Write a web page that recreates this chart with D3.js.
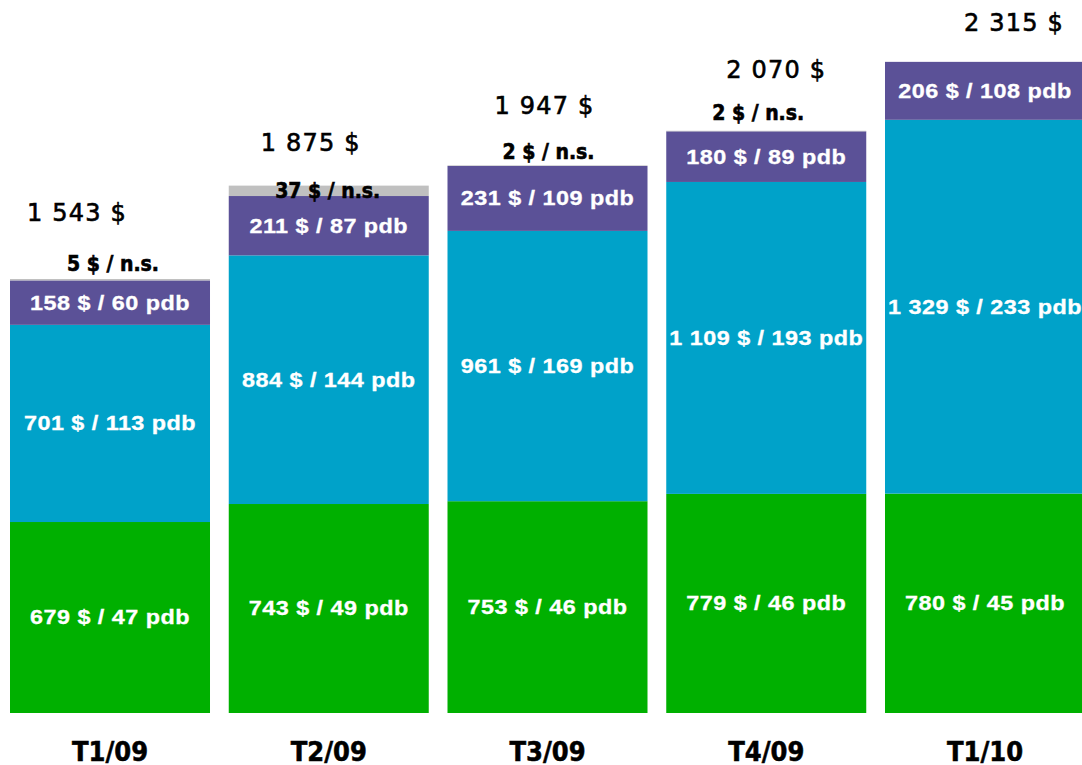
<!DOCTYPE html>
<html><head><meta charset="utf-8">
<script src="https://cdn.jsdelivr.net/npm/d3@7"></script>
<style>
html,body{margin:0;padding:0;background:#fff;}
svg{display:block;}
</style></head>
<body>
<svg id="chart" width="1082" height="765"></svg>
<script>
// ---- data ----
const categories = ["T1/09","T2/09","T3/09","T4/09","T1/10"];
const greenValues  = [679, 743, 753, 779, 780];
const greenPdb     = [47, 49, 46, 46, 45];
const blueValues   = [701, 884, 961, 1109, 1329];
const bluePdb      = [113, 144, 169, 193, 233];
const purpleValues = [158, 211, 231, 180, 206];
const purplePdb    = [60, 87, 109, 89, 108];
const grayValues   = [5, 37, 2, 2, 0];
const totals       = [1543, 1875, 1947, 2070, 2315];

// ---- layout (label nudges, not data) ----
const totalDx = [-33, -18, -3, 10, 29];
const totalDy = [-66, -43, -59, -61, -39];
const nsDx = [3, -1, 1, -8, 0];
const nsDy = [-15, 5, -13, -18, 0];
const stretch = 1.17;

const colors = {green:"#00b000", blue:"#00a2c9", purple:"#5b5197", gray:"#c0c0c0"};

const svg = d3.select("#chart");
const loc = d3.formatLocale({decimal:",", thousands:" ", grouping:[3], currency:["","$"]});
const fmt = loc.format(",d");

const x = d3.scaleBand().domain(categories).range([10, 1085]).paddingInner(0.0857).paddingOuter(0);
const y = d3.scaleLinear().domain([0, 2315]).range([713, 713 - 2315 * (434 / 1543)]);

const series = [
  {key:"green", vals:greenValues, pdb:greenPdb},
  {key:"blue", vals:blueValues, pdb:bluePdb},
  {key:"purple", vals:purpleValues, pdb:purplePdb},
  {key:"gray", vals:grayValues, pdb:null}
];

const rows = categories.map((c,i)=>{
  let acc = 0;
  return series.map(s=>{
    const y0 = acc; acc += s.vals[i];
    return {cat:c, i, key:s.key, y0, y1:acc, v:s.vals[i], pdb:s.pdb ? s.pdb[i] : null};
  });
}).flat();

svg.append("g").selectAll("rect").data(rows.filter(d=>d.v>0)).join("rect")
  .attr("x", d=>x(d.cat))
  .attr("width", x.bandwidth())
  .attr("y", d=>y(d.y1))
  .attr("height", d=>y(d.y0)-y(d.y1))
  .attr("fill", d=>colors[d.key]);

// segment labels (horizontally stretched bold sans)
svg.append("g").selectAll("text").data(rows.filter(d=>d.pdb!==null)).join("text")
  .attr("transform", d=>`translate(${x(d.cat)+x.bandwidth()/2},${(y(d.y0)+y(d.y1))/2}) scale(${stretch},1)`)
  .attr("text-anchor","middle")
  .attr("dominant-baseline","central")
  .attr("fill","#fff")
  .attr("stroke","#fff").attr("stroke-width",0.3)
  .style("font-family","'Liberation Sans', Arial, sans-serif")
  .style("font-weight","bold")
  .style("font-size","20px")
  .style("letter-spacing","0.4px")
  .text(d=>fmt(d.v)+" $ / "+d.pdb+" pdb");

// n.s. labels
svg.append("g").selectAll("text").data(categories.map((c,i)=>({c,i,v:grayValues[i]})).filter(d=>d.v>0)).join("text")
  .attr("x", d=>x(d.c)+x.bandwidth()/2+nsDx[d.i])
  .attr("y", d=>y(totals[d.i])+nsDy[d.i])
  .attr("text-anchor","middle")
  .attr("dominant-baseline","central")
  .attr("fill","#000")
  .attr("stroke","#000").attr("stroke-width",0.6)
  .style("font-family","'DejaVu Sans Condensed','DejaVu Sans',sans-serif")
  .style("font-stretch","condensed")
  .style("font-weight","bold")
  .style("font-size","21px")
  .text(d=>d.v+" $ / n.s.");

// totals
svg.append("g").selectAll("text").data(categories.map((c,i)=>({c,i}))).join("text")
  .attr("x", d=>x(d.c)+x.bandwidth()/2+totalDx[d.i])
  .attr("y", d=>y(totals[d.i])+totalDy[d.i])
  .attr("text-anchor","middle")
  .attr("dominant-baseline","central")
  .attr("fill","#000")
  .style("font-family","'DejaVu Sans',Verdana,sans-serif")
  .style("font-size","24px")
  .style("letter-spacing","1.2px")
  .attr("stroke","#000").attr("stroke-width",0.6)
  .text(d=>fmt(totals[d.i])+" $");

// category axis labels
const ax = d3.axisBottom(x).tickSize(0).tickPadding(0);
const g = svg.append("g").attr("transform","translate(0,740)").call(ax);
g.select(".domain").remove();
g.selectAll("text")
  .attr("dy",null).attr("y",11)
  .attr("dominant-baseline","central")
  .attr("fill","#000")
  .attr("stroke","#000").attr("stroke-width",0.5)
  .style("font-family","'DejaVu Sans Condensed','DejaVu Sans',sans-serif")
  .style("font-stretch","condensed")
  .style("font-weight","bold")
  .style("font-size","27px");
</script>
</body></html>
